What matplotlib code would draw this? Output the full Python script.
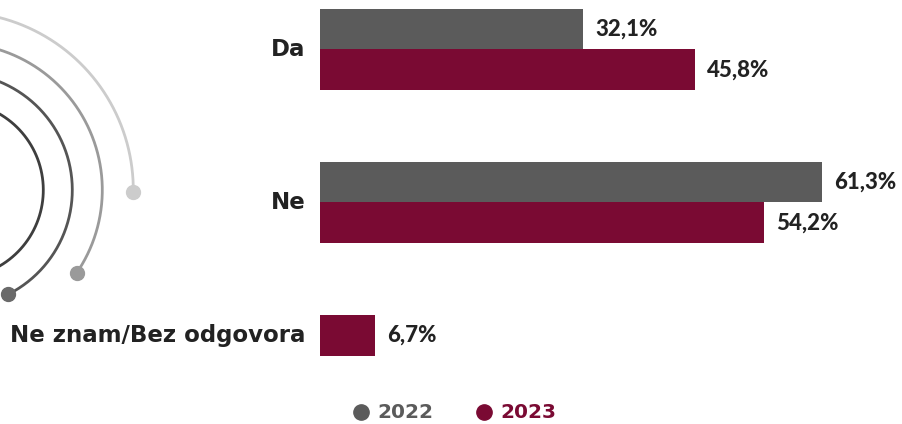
import numpy as np
import matplotlib.pyplot as plt

plt.rcParams.update({"font.family": ["Lato", "DejaVu Sans"]})

# -- data ------------------------------------------------
categories = ["Da", "Ne", "Ne znam/Bez odgovora"]
years = ["2022", "2023"]
values_2022 = [32.1, 61.3, None]
values_2023 = [45.8, 54.2, 6.7]

# -- colours ------------------------------------------------
GREY = "#5b5b5b"
MAROON = "#7a0a33"
TEXT = "#222222"
WIDE = ["DejaVu Sans"]

W, H = 903, 424
fig = plt.figure(figsize=(W / 100, H / 100), dpi=100)

# -- decorative arcs (pixel coordinates) ------------------------------------
deco = fig.add_axes([0, 0, 1, 1])
deco.set_xlim(0, W)
deco.set_ylim(H, 0)
deco.axis("off")
cx, cy = -44.7, 190
arcs = [(88, 100, -150, "#3e3e3e", "#3e3e3e"),
        (117, 100, -63, "#555555", "#6a6a6a"),
        (147, 100, -34.4, "#9a9a9a", "#9a9a9a"),
        (178, 100, -0.5, "#cccccc", "#cccccc")]
for r, a0, a1, col, dot in arcs:
    t = np.radians(np.linspace(a0, a1, 300))
    deco.plot(cx + r * np.cos(t), cy - r * np.sin(t), color=col, lw=2,
              solid_capstyle="round")
    deco.plot(cx + r * np.cos(np.radians(a1)), cy - r * np.sin(np.radians(a1)),
              "o", color=dot, ms=10)

# -- bars ------------------------------------------------
ax = fig.add_axes([320 / W, 0, 1 - 320 / W, 1])
ax.set_xlim(0, (W - 320) / 8.19)
ax.set_ylim(2.448, -0.3235)
ax.axis("off")

group_pos = [0, 1, 1.87]
h = 0.265
for i, cat in enumerate(categories):
    y = group_pos[i]
    v22, v23 = values_2022[i], values_2023[i]
    if v22 is not None:
        ax.barh(y - h / 2, v22, height=h, color=GREY)
        ax.text(v22 + 1.5, y - h / 2, f"{v22:.1f}%".replace(".", ","),
                va="center", ha="left", fontsize=16, fontweight=900, color=TEXT)
        y23 = y + h / 2
    else:
        y23 = y
    ax.barh(y23, v23, height=h, color=MAROON)
    ax.text(v23 + 1.5, y23, f"{v23:.1f}%".replace(".", ","),
            va="center", ha="left", fontsize=16, fontweight=900, color=TEXT)
    ax.text(-1.8, y, cat, va="center", ha="right", fontsize=16.5, family=WIDE,
            fontweight="bold", color=TEXT, clip_on=False)

# -- legend ------------------------------------------------
for x0, yr, col in zip([361, 484], years, [GREY, MAROON]):
    deco.plot(x0, 412, "o", color=col, ms=11)
    deco.text(x0 + 16, 413, yr, va="center", ha="left", fontsize=14.5,
              family=WIDE, fontweight="bold", color=col)

fig.savefig("out.png", dpi=100)
